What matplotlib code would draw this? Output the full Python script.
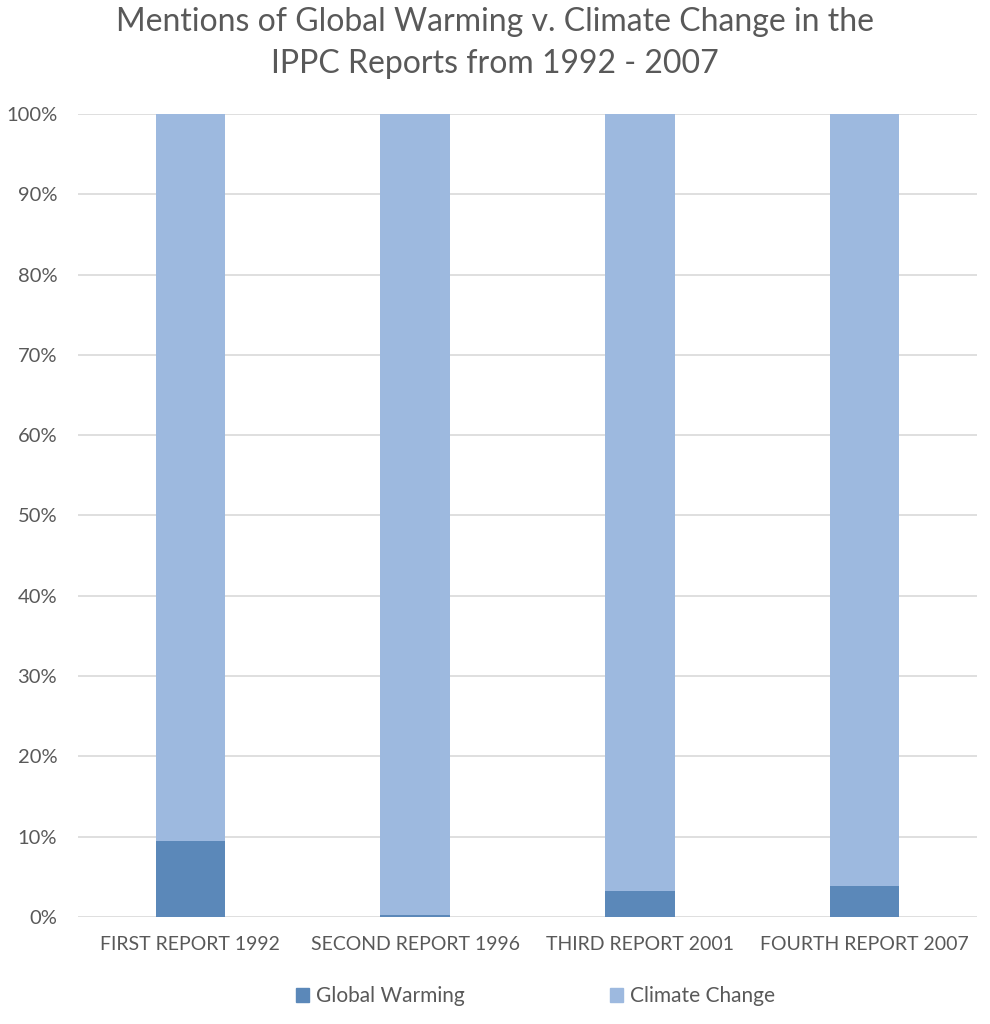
import matplotlib
matplotlib.use("Agg")
import matplotlib.pyplot as plt
from matplotlib.ticker import PercentFormatter
from matplotlib.patches import Patch

categories = ["FIRST REPORT 1992", "SECOND REPORT 1996", "THIRD REPORT 2001", "FOURTH REPORT 2007"]
global_warming = [9.5, 0.25, 3.2, 3.9]
climate_change = [90.5, 99.75, 96.8, 96.1]
series_names = ["Global Warming", "Climate Change"]
title = "Mentions of Global Warming v. Climate Change in the\nIPPC Reports from 1992 - 2007"

plt.rcParams['font.family'] = ['Lato', 'DejaVu Sans']
gray = "#595959"
dark = "#5B88B9"
light = "#9DB9DF"

fig = plt.figure(figsize=(9.9, 10.24), dpi=100)
ax = fig.add_axes([0.0788, 0.1045, 0.908, 0.7842])

x = range(len(categories))
ax.bar(x, global_warming, width=0.31, color=dark, zorder=3)
ax.bar(x, climate_change, width=0.31, bottom=global_warming, color=light, zorder=3)

ax.set_xlim(-0.5, 3.5)
ax.set_ylim(0, 100)
ax.set_yticks(range(0, 101, 10))
ax.yaxis.set_major_formatter(PercentFormatter(decimals=0))
ax.grid(axis='y', color="#D9D9D9", linewidth=1.2, zorder=0)
for s in ax.spines.values():
    s.set_visible(False)
ax.tick_params(axis='x', length=0, labelsize=14, colors=gray, pad=14)
ax.tick_params(axis='y', length=0, labelsize=14.5, colors=gray, pad=15)
ax.set_xticks(list(x))
ax.set_xticklabels(categories)

fig.suptitle(title, x=0.5, y=0.993, fontsize=23, color=gray, linespacing=1.5)

handles = [Patch(color=dark), Patch(color=light)]
fig.legend(handles, series_names, loc='center', bbox_to_anchor=(0.541, 0.027), ncol=2,
           frameon=False, fontsize=15, labelcolor=gray, handlelength=0.6, handleheight=0.6,
           handletextpad=0.35, columnspacing=7.0)

fig.savefig("out.png", dpi=100, facecolor="white")
